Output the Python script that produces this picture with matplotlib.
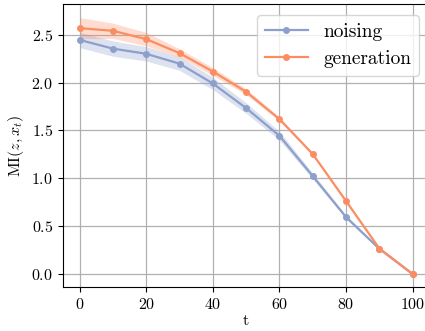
import numpy as np
import matplotlib
matplotlib.use('Agg')
import matplotlib.pyplot as plt

# values
t = [0, 10, 20, 30, 40, 50, 60, 70, 80, 90, 100]
mi_noise = [2.445, 2.354, 2.30, 2.197, 1.99, 1.733, 1.444, 1.023, 0.595, 0.264, 0.0]
sd_noise = [0.08, 0.08, 0.075, 0.07, 0.065, 0.055, 0.045, 0.03, 0.02, 0.01, 0.0]
mi_gen = [2.568, 2.54, 2.453, 2.307, 2.115, 1.903, 1.618, 1.253, 0.762, 0.267, 0.0]
sd_gen = [0.11, 0.08, 0.07, 0.045, 0.04, 0.03, 0.02, 0.012, 0.008, 0.004, 0.0]

plt.rcParams['font.family'] = 'cmr10'
plt.rcParams['mathtext.fontset'] = 'cm'
plt.rcParams['axes.formatter.use_mathtext'] = True

c_noise = '#8da0cb'
c_gen = '#fc8d62'

fig = plt.figure(figsize=(4.25, 3.31), dpi=100)
ax = fig.add_axes([63/425, 44/331, 366.3/425, 283/331])

t = np.array(t)
for mi, sd, c, lab in [(mi_noise, sd_noise, c_noise, 'noising'),
                       (mi_gen, sd_gen, c_gen, 'generation')]:
    mi = np.array(mi); sd = np.array(sd)
    ax.fill_between(t, mi - sd, mi + sd, color=c, alpha=0.3, lw=0)
    ax.plot(t, mi, color=c, marker='o', ms=4, lw=1.6, label=lab)

ax.set_xlim(-5, 105)
ax.set_ylim(-0.135, 2.82)
ax.set_xticks([0, 20, 40, 60, 80, 100])
ax.set_yticks([0.0, 0.5, 1.0, 1.5, 2.0, 2.5])
ax.grid(True, color='#b0b0b0', lw=0.9)
ax.set_axisbelow(True)
ax.tick_params(labelsize=11.5)
ax.set_xlabel('t', fontsize=11.5, labelpad=2)
ax.set_ylabel(r'MI$(z, x_t)$', fontsize=11.5, labelpad=4)
# legend anchored in axes coords; right edge at about x=419 px
ax.legend(loc='upper right', bbox_to_anchor=((419 - 63) / 366.3, 0.962),
          borderaxespad=0, fontsize=14, handlelength=2.2)

fig.savefig('out.png', dpi=100)
